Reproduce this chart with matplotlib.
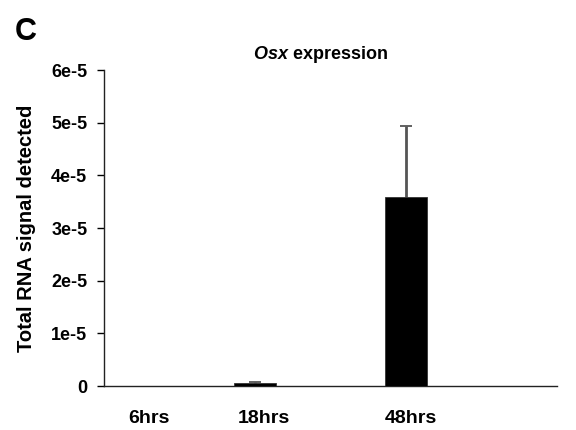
import matplotlib
matplotlib.use("Agg")
import matplotlib.pyplot as plt

plt.rcParams["font.family"] = ["Liberation Sans", "DejaVu Sans"]
plt.rcParams["font.weight"] = "bold"
plt.rcParams["mathtext.fontset"] = "custom"
plt.rcParams["mathtext.bfit"] = "Liberation Sans:italic:bold"

# data
categories = ["6hrs", "18hrs", "48hrs"]
signal = [0.0, 0.06e-5, 3.59e-5]
signal_err = [0.0, 0.02e-5, 1.34e-5]
y_ticks = [0, 1e-5, 2e-5, 3e-5, 4e-5, 5e-5, 6e-5]
y_tick_labels = ["0", "1e-5", "2e-5", "3e-5", "4e-5", "5e-5", "6e-5"]

bar_pos = [0, 1, 2]
label_pos = [0.30, 1.06, 2.03]

fig = plt.figure(figsize=(5.76, 4.3), dpi=100)
ax = fig.add_axes([0.1806, 0.1023, 0.7864, 0.7347])

ax.bar(bar_pos, signal, width=0.28, color="black", edgecolor="#333333",
       linewidth=0.6, zorder=3)

# upward-only error bars
tops = [v + e for v, e in zip(signal, signal_err)]
ax.vlines(bar_pos[1:], signal[1:], tops[1:], color="#555555", linewidth=2, zorder=2)
ax.plot(bar_pos[1:], tops[1:], linestyle="none", marker="_", markersize=9,
        markeredgewidth=1.3, color="#555555", zorder=2)

ax.set_xlim(0, 3)
ax.set_ylim(0, 6e-5)
ax.set_yticks(y_ticks)
ax.set_yticklabels(y_tick_labels, fontsize=13, fontweight="bold")
ax.set_xticks(label_pos)
ax.set_xticklabels(categories, fontsize=14, fontweight="bold")
ax.tick_params(axis="x", length=0, pad=17)
ax.tick_params(axis="y", direction="out", length=5, width=1, pad=7)

for s in ["top", "right"]:
    ax.spines[s].set_visible(False)
for s in ["left", "bottom"]:
    ax.spines[s].set_linewidth(1)
    ax.spines[s].set_color("#222222")

ax.set_ylabel("Total RNA signal detected", fontsize=14.5, fontweight="bold")
ax.yaxis.set_label_coords(-0.15, 0.5)

fig.text(0.556, 0.863, r"$\mathbfit{Osx}$ expression", fontsize=13,
         fontweight="bold", ha="center", va="baseline")

fig.text(0.026, 0.907, "C", fontsize=22, fontweight="bold", va="baseline")

fig.savefig("out.png", dpi=100)
